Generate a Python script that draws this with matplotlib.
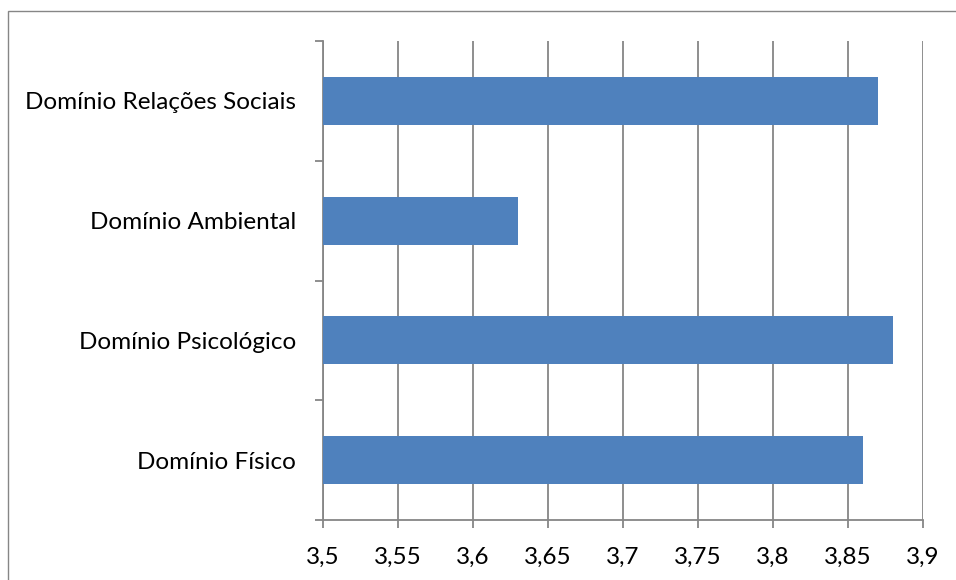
import matplotlib
matplotlib.use("Agg")
import matplotlib.pyplot as plt
import matplotlib.patches as patches
import numpy as np

# ─────────────────────────────────────────────
# Data
# ─────────────────────────────────────────────
categories = ["Domínio Físico", "Domínio Psicológico",
              "Domínio Ambiental", "Domínio Relações Sociais"]
values = [3.86, 3.88, 3.63, 3.87]
x_ticks = [3.5, 3.55, 3.6, 3.65, 3.7, 3.75, 3.8, 3.85, 3.9]
x_labels = ["3,5", "3,55", "3,6", "3,65", "3,7", "3,75", "3,8", "3,85", "3,9"]

plt.rcParams["font.family"] = ["Lato", "DejaVu Sans"]

GRAY = "#868686"
BLUE = "#4F81BD"

fig = plt.figure(figsize=(9.56, 5.8), dpi=100)
ax = fig.add_axes([322.7 / 956, 1 - 520 / 580, 600 / 956, 479 / 580])

y = np.arange(len(categories))
ax.barh(y, values, height=0.4, color=BLUE, zorder=3)

ax.set_xlim(3.5, 3.9)
ax.set_ylim(-0.5, len(categories) - 0.5)

ax.set_xticks(x_ticks)
ax.set_xticklabels(x_labels, fontsize=17.5)
ax.set_yticks(y)
ax.set_yticklabels(categories, fontsize=17.5)
ax.set_yticks(np.arange(-0.5, len(categories)), minor=True)

ax.grid(axis="x", color=GRAY, linewidth=1.3, zorder=1)
for s in ["top", "right"]:
    ax.spines[s].set_visible(False)
for s in ["left", "bottom"]:
    ax.spines[s].set_color(GRAY)
    ax.spines[s].set_linewidth(1.3)

ax.tick_params(axis="x", length=6, width=1.3, color=GRAY, pad=13)
ax.tick_params(axis="y", which="major", length=0, pad=19)
ax.tick_params(axis="y", which="minor", length=6, width=1.3, color=GRAY)

# chart-area border (clipped by the image at right and bottom)
border = patches.Rectangle((8 / 956, -0.1), 1.2, 1.1 - 11 / 580,
                           transform=fig.transFigure, fill=False,
                           edgecolor=GRAY, linewidth=1.0, clip_on=False)
fig.patches.append(border)

plt.savefig("out.png", dpi=100)
plt.close()
